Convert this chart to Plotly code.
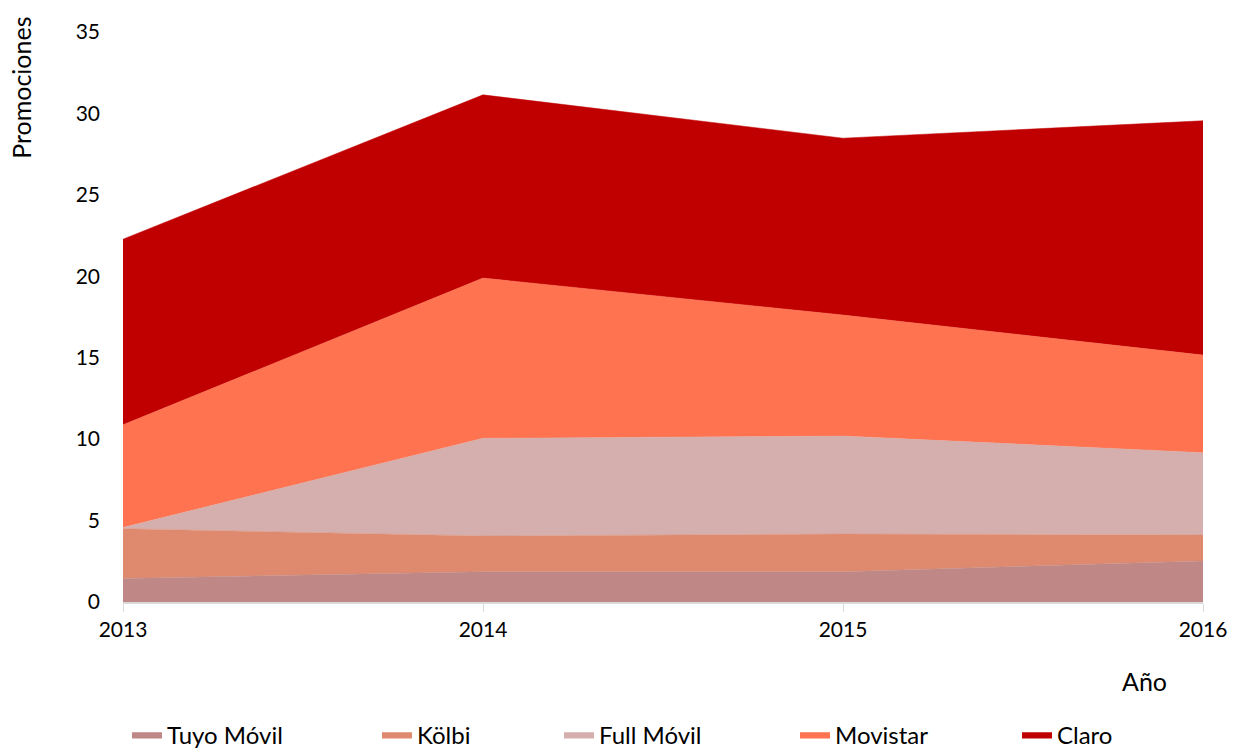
import plotly.graph_objects as go

years = [2013, 2014, 2015, 2016]
tuyo_movil = [1.45, 1.86, 1.86, 2.52]
kolbi = [3.05, 2.19, 2.31, 1.59]
full_movil = [0.08, 6.0, 6.02, 5.06]
movistar = [6.3, 9.84, 7.43, 5.99]
claro = [11.4, 11.25, 10.86, 14.39]

series_names = ["Tuyo Móvil", "Kölbi", "Full Móvil", "Movistar", "Claro"]
series_values = [tuyo_movil, kolbi, full_movil, movistar, claro]
series_colors = ["#BF8886", "#DF8A6F", "#D5AFAD", "#FF7350", "#C00000"]

FONT = "Lato, 'Open Sans', sans-serif"
W, H = 1233, 753

legend_ids = ["legend", "legend2", "legend3", "legend4", "legend5"]
legend_px = [127, 377, 559, 795, 1017]

fig = go.Figure()
for name, vals, col, lid in zip(series_names, series_values, series_colors, legend_ids):
    fig.add_trace(go.Scatter(
        x=years, y=vals, name=name, mode="lines",
        stackgroup="one", line=dict(width=0.5, color=col),
        fillcolor=col, legend=lid,
    ))

legend_layout = {}
for lid, px in zip(legend_ids, legend_px):
    legend_layout[lid] = dict(
        xref="container", yref="container", x=px / W, y=0.024,
        xanchor="left", yanchor="middle", orientation="h",
        font=dict(size=24, family=FONT), itemwidth=30,
        bgcolor="rgba(0,0,0,0)",
    )

fig.update_layout(
    width=W, height=H,
    margin=dict(l=123, r=30, t=32, b=151, autoexpand=False),
    paper_bgcolor="white", plot_bgcolor="white",
    font=dict(family=FONT, size=21, color="#000000"),
    showlegend=True,
    xaxis=dict(
        range=[2013, 2016], tickvals=years, ticktext=[str(y) for y in years],
        showgrid=False, zeroline=False, showline=True, linecolor="#D9D9D9",
        linewidth=1.5, ticks="outside", ticklen=8, tickcolor="#D9D9D9",
        tickfont=dict(size=21), automargin=False,
    ),
    yaxis=dict(
        range=[0, 35], dtick=5, showgrid=False, zeroline=False, showline=False,
        ticks="", ticklabelstandoff=22, tickfont=dict(size=21), automargin=False,
    ),
    annotations=[
        dict(text="Promociones", xref="paper", yref="paper", x=-0.0945, y=1.03,
             xanchor="center", yanchor="top", textangle=-90, showarrow=False,
             font=dict(size=25, family=FONT)),
        dict(text="Año", xref="paper", yref="paper", x=0.946, y=-0.1386,
             xanchor="center", yanchor="middle", showarrow=False,
             font=dict(size=25, family=FONT)),
    ],
    **legend_layout,
)

fig.write_html(
    "out.html",
    config={"displayModeBar": False},
    post_script="document.body.style.margin='0';document.body.style.overflow='hidden';",
)
